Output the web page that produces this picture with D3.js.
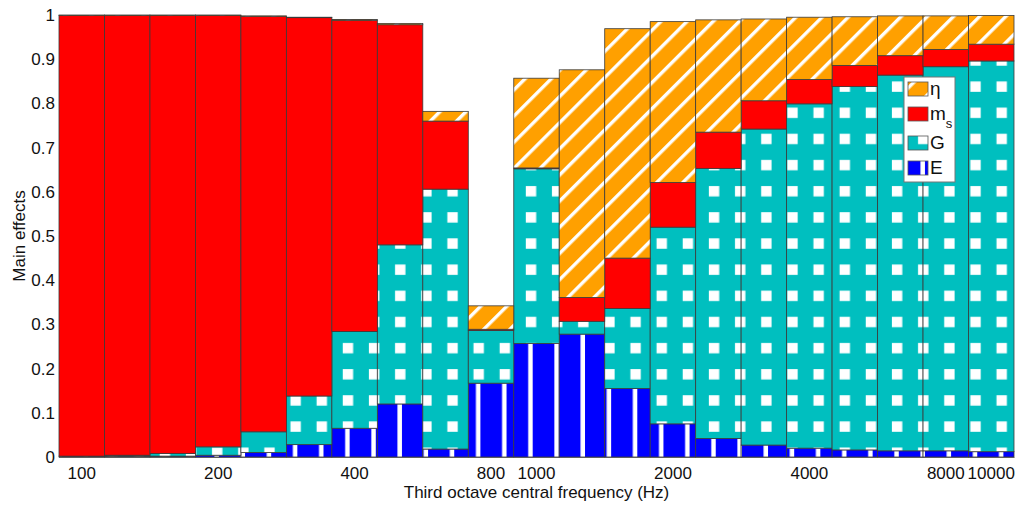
<!DOCTYPE html>
<html>
<head>
<meta charset="utf-8">
<script src="https://cdn.jsdelivr.net/npm/d3@7"></script>
<style>
  html, body { margin: 0; padding: 0; background: #fff; }
  svg { display: block; font-family: "Liberation Sans", Arial, Helvetica, sans-serif; }
</style>
</head>
<body>
<svg id="chart" width="1018" height="508"></svg>
<script>
// ---- data ----
const freqs = ["100","125","160","200","250","315","400","500","630","800","1000",
               "1250","1600","2000","2500","3150","4000","5000","6300","8000","10000"];
const xTickLabels = ["100","200","400","800","1000","2000","4000","8000","10000"];
const yTickValues = [0, 0.1, 0.2, 0.3, 0.4, 0.5, 0.6, 0.7, 0.8, 0.9, 1];

const effE   = [0.002,0.002,0.002,0.004,0.010,0.028,0.065,0.120,0.018,0.167,0.257,
                0.278,0.155,0.075,0.042,0.027,0.020,0.016,0.014,0.014,0.012];
const effG   = [0.000,0.002,0.006,0.019,0.047,0.110,0.219,0.360,0.588,0.119,0.395,
                0.029,0.181,0.445,0.611,0.715,0.779,0.822,0.850,0.869,0.884];
const effMs  = [0.997,0.995,0.991,0.976,0.940,0.856,0.704,0.498,0.154,0.003,0.002,
                0.054,0.114,0.101,0.082,0.064,0.055,0.048,0.044,0.039,0.038];
const effEta = [0.001,0.001,0.001,0.001,0.001,0.001,0.002,0.003,0.022,0.053,0.203,
                0.515,0.519,0.364,0.254,0.185,0.141,0.110,0.090,0.076,0.065];

const seriesKeys = ["E","G","ms","eta"];

// ---- layout ----
const plotL = 59, plotR = 1014, plotT = 15, plotB = 457;
const svg = d3.select("#chart");

const x = d3.scaleBand().domain(freqs).range([plotL, plotR]).padding(0);
const y = d3.scaleLinear().domain([0, 1]).range([plotB, plotT]);

// ---- patterns ----
const defs = svg.append("defs");
const P = 26.15;
const colE = "#0000ff", colG = "#00bfbf", colMs = "#ff0000", colEta = "#ffa000";

const pE = defs.append("pattern").attr("id","patE").attr("patternUnits","userSpaceOnUse")
  .attr("width", P).attr("height", 10);
pE.append("rect").attr("width", P).attr("height", 10).attr("fill", colE);
pE.append("rect").attr("x", 5.2).attr("width", 4.5).attr("height", 10).attr("fill", "#fff");

const pG = defs.append("pattern").attr("id","patG").attr("patternUnits","userSpaceOnUse")
  .attr("width", P).attr("height", P);
pG.append("rect").attr("width", P).attr("height", P).attr("fill", colG);
pG.append("rect").attr("x", 2.8).attr("y", 3.0).attr("width", 10.4).attr("height", 10.4).attr("fill", "#fff");

const pEta = defs.append("pattern").attr("id","patEta").attr("patternUnits","userSpaceOnUse")
  .attr("width", P/Math.SQRT2).attr("height", 20).attr("patternTransform","rotate(45)");
pEta.append("rect").attr("width", P/Math.SQRT2).attr("height", 20).attr("fill", colEta);
pEta.append("rect").attr("x", 0).attr("width", 3.4).attr("height", 20).attr("fill", "#fff");

const fills = { E: "url(#patE)", G: "url(#patG)", ms: colMs, eta: "url(#patEta)" };

// ---- axes (behind the bars) ----
const fontSize = 17;
const yAxis = svg.append("g").attr("transform", `translate(${plotL},0)`)
  .call(d3.axisLeft(y).tickValues(yTickValues).tickFormat(d => String(d))
        .tickSizeInner(-9).tickSizeOuter(0).tickPadding(4));
yAxis.select(".domain").attr("stroke", "#666");
yAxis.selectAll(".tick line").attr("stroke", "#777");
yAxis.selectAll("text").attr("font-size", fontSize).attr("fill", "#111")
  .attr("font-family", '"Liberation Sans", Arial, sans-serif');

const xAxis = svg.append("g").attr("transform", `translate(0,${plotB})`)
  .call(d3.axisBottom(x).tickValues(xTickLabels).tickSizeInner(0).tickSizeOuter(0).tickPadding(10));
xAxis.select(".domain").attr("stroke", "#777");
xAxis.selectAll("text").attr("font-size", fontSize).attr("fill", "#111")
  .attr("font-family", '"Liberation Sans", Arial, sans-serif');

// ---- bars ----
const rows = freqs.map((f, i) => ({ f, E: effE[i], G: effG[i], ms: effMs[i], eta: effEta[i] }));
const stacked = d3.stack().keys(seriesKeys)(rows);

svg.append("g").selectAll("g").data(stacked).join("g")
  .attr("fill", s => fills[s.key])
  .selectAll("rect").data(s => s).join("rect")
  .attr("x", d => x(d.data.f))
  .attr("width", x.bandwidth())
  .attr("y", d => y(d[1]))
  .attr("height", d => Math.max(0, y(d[0]) - y(d[1])))
  .attr("stroke", "#3a3a3a").attr("stroke-width", 0.8);

// ---- axis titles ----
svg.append("text").attr("x", (plotL + plotR) / 2).attr("y", 498)
  .attr("text-anchor", "middle").attr("font-size", fontSize).attr("fill", "#111")
  .text("Third octave central frequency (Hz)");
svg.append("text").attr("transform", `translate(25,${(plotT + plotB) / 2}) rotate(-90)`)
  .attr("text-anchor", "middle").attr("font-size", fontSize).attr("fill", "#111")
  .text("Main effects");

// ---- legend ----
const legendItems = [
  { key: "eta", label: "η",  y: 82 },
  { key: "ms",  label: "m",  sub: "s", y: 107 },
  { key: "G",   label: "G",  y: 136 },
  { key: "E",   label: "E",  y: 161 }
];
const lg = svg.append("g");
lg.append("rect").attr("x", 904).attr("y", 77).attr("width", 51).attr("height", 105)
  .attr("fill", "#fff").attr("stroke", "#777").attr("stroke-width", 1);
legendItems.forEach(it => {
  lg.append("rect").attr("x", 908).attr("y", it.y).attr("width", 20).attr("height", 14)
    .attr("fill", fills[it.key]).attr("stroke", "#555").attr("stroke-width", 0.8);
  const t = lg.append("text").attr("x", 930).attr("y", it.y + 13)
    .attr("font-size", 19).attr("fill", "#111");
  t.append("tspan").text(it.label);
  if (it.sub) t.append("tspan").attr("dy", 8).attr("font-size", 13).text(it.sub);
});
</script>
</body>
</html>
